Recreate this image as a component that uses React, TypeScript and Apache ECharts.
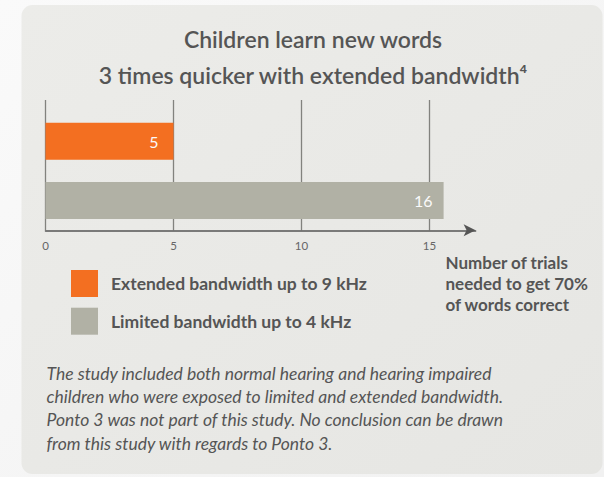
import React, { useEffect, useRef } from "react";
import * as echarts from "echarts";

const categories = ["Extended bandwidth up to 9 kHz", "Limited bandwidth up to 4 kHz"];
const trials = [5, 15.55];
const barColors = ["#F36F21", "#B1B1A5"];
const xTicks = [0, 5, 10, 15];
const titleLines = ["Children learn new words", "3 times quicker with extended bandwidth⁴"];
const axisNameLines = ["Number of trials", "needed to get 70%", "of words correct"];
const noteLines = [
  "The study included both normal hearing and hearing impaired",
  "children who were exposed to limited and extended bandwidth.",
  "Ponto 3 was not part of this study. No conclusion can be drawn",
  "from this study with regards to Ponto 3.",
];

const FONT = "Lato, 'Open Sans', sans-serif";
const TEXT = "#555555";

export default function App() {
  const ref = useRef<HTMLDivElement>(null);
  useEffect(() => {
    if (!ref.current) return;
    const chart = echarts.init(ref.current, undefined, { renderer: "svg" });
    const gridLeft = 45.5;
    const gridWidth = 430.1;
    const xMax = 16.8;
    chart.setOption({
      animation: false,
      backgroundColor: {
        type: "linear", x: 0, y: 0, x2: 1, y2: 1,
        colorStops: [{ offset: 0, color: "#fafafa" }, { offset: 1, color: "#f1f1f1" }],
      },
      textStyle: { fontFamily: FONT },
      graphic: [
        {
          type: "rect", z: -10, silent: true,
          shape: { x: 21.5, y: 5, width: 581, height: 469, r: 11 },
          style: {
            fill: {
              type: "linear", x: 0, y: 0, x2: 1, y2: 1,
              colorStops: [{ offset: 0, color: "#ecece9" }, { offset: 1, color: "#e6e6e3" }],
            },
          },
        },
        ...titleLines.map((t, i) => ({
          type: "text", x: 313, y: 39 + i * 36,
          style: {
            text: t, fill: TEXT, font: `600 23px ${FONT}`,
            textAlign: "center", textVerticalAlign: "middle",
          },
        })),
        ...axisNameLines.map((t, i) => ({
          type: "text", x: 445.5, y: 262 + i * 21,
          style: {
            text: t, fill: TEXT, font: `bold 17px ${FONT}`,
            textAlign: "left", textVerticalAlign: "middle",
          },
        })),
        ...noteLines.map((t, i) => ({
          type: "text", x: 46.5, y: 373 + i * 23.4,
          style: {
            text: t, fill: TEXT, font: `italic 400 17.5px ${FONT}`,
            textAlign: "left", textVerticalAlign: "middle",
          },
        })),
      ],
      legend: {
        orient: "vertical",
        left: 66, top: 265,
        itemWidth: 27, itemHeight: 27, itemGap: 10.7,
        icon: "rect",
        data: categories,
        textStyle: { color: TEXT, fontSize: 17.5, fontWeight: "bold", fontFamily: FONT, padding: [0, 0, 0, 8] },
        selectedMode: false,
      },
      grid: [
        { left: gridLeft, top: 100, width: gridWidth, height: 130.3 },
        { left: gridLeft, top: 111.5, width: gridWidth, height: 118.8 },
      ],
      xAxis: [
        {
          gridIndex: 0, type: "value", min: 0, max: xMax, interval: 5,
          axisLine: {
            show: true, symbol: ["none", "arrow"], symbolSize: [9, 12],
            lineStyle: { color: "#555", width: 1.5 },
          },
          axisTick: { show: false },
          axisLabel: {
            margin: 9, color: "#666", fontSize: 11.5, fontFamily: FONT,
            showMaxLabel: false,
            formatter: (v: number) => (xTicks.includes(v) ? String(v) : ""),
          },
          splitLine: { show: true, showMaxLine: false, lineStyle: { color: "#82827e", width: 1.3 } },
        },
        {
          gridIndex: 1, type: "value", min: 0, max: xMax, show: false,
          splitLine: { show: false },
        },
      ],
      yAxis: [
        { gridIndex: 0, type: "category", data: [""], show: false },
        {
          gridIndex: 1, type: "category", data: categories, inverse: true, show: false,
        },
      ],
      series: categories.map((name, i) => ({
        type: "bar",
        name,
        xAxisIndex: 1,
        yAxisIndex: 1,
        stack: "all",
        barWidth: 37,
        data: categories.map((_, j) => (j === i ? trials[i] : "-")),
        itemStyle: { color: barColors[i] },
        label: {
          show: true,
          position: "insideRight",
          distance: i === 0 ? 15 : 11,
          color: "#fafafa",
          fontSize: 16,
          fontFamily: FONT,
          formatter: (p: any) => String(Math.round(p.value)),
        },
      })),
    });
    return () => chart.dispose();
  }, []);
  return (
    <div
      ref={ref}
      style={{ position: "fixed", left: 0, top: 0, width: 604, height: 477 }}
    />
  );
}
